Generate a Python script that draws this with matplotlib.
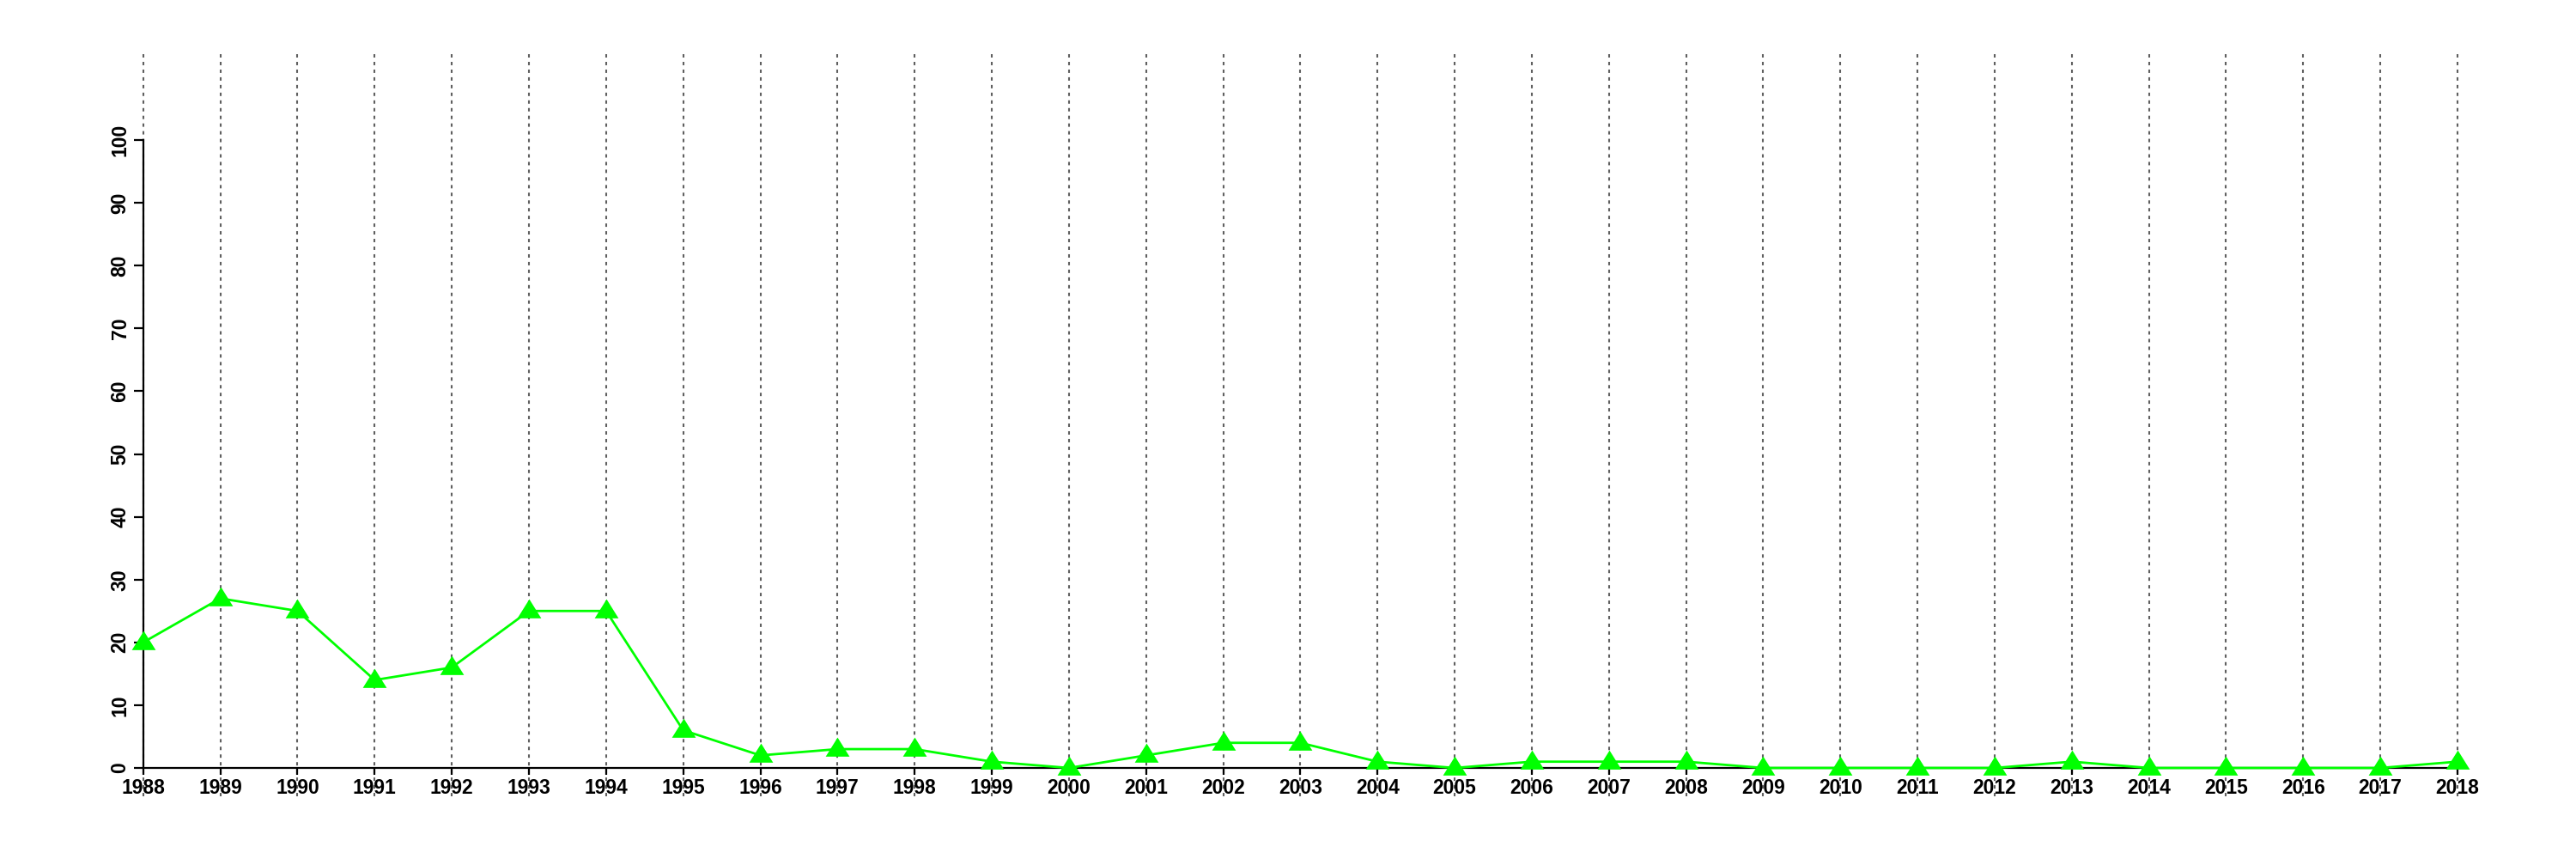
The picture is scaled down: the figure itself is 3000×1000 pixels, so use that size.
import matplotlib
matplotlib.use('Agg')
import matplotlib.pyplot as plt
from matplotlib.path import Path
import numpy as np

years = list(range(1988, 2019))
values = [20, 27, 25, 14, 16, 25, 25, 6, 2, 3, 3, 1, 0, 2, 4, 4, 1, 0,
          1, 1, 1, 0, 0, 0, 0, 1, 0, 0, 0, 0, 1]
y_ticks = list(range(0, 101, 10))

plt.rcParams['font.family'] = ['Liberation Sans', 'DejaVu Sans']
plt.rcParams['font.weight'] = 'bold'

# flatter triangle, a bit above the point (like R's pch 17)
tri = Path([(-1, -0.6), (1, -0.6), (0, 1.0), (-1, -0.6)],
           [Path.MOVETO, Path.LINETO, Path.LINETO, Path.CLOSEPOLY])

fig = plt.figure(figsize=(30, 10), dpi=100)
ax = fig.add_axes([0.0556, 0.106, 0.954 - 0.0556, 0.837 - 0.106])

ax.set_xlim(years[0], years[-1])
ax.set_ylim(0, 100)

# dotted vertical guides, running past the plot area like the original
ax.vlines(years, -4.5, 114.1, colors='#5f5f5f', linestyles=(0, (1.9, 2.4)),
          linewidth=1.5, clip_on=False, zorder=1)

ax.plot(years, values, color='#00ff00', linewidth=2, marker=tri,
        markersize=20, markeredgewidth=0, clip_on=False, zorder=3)

for side in ['top', 'right']:
    ax.spines[side].set_visible(False)
for side in ['left', 'bottom']:
    ax.spines[side].set_linewidth(1.6)
    ax.spines[side].set_zorder(2)

ax.set_xticks(years)
ax.set_xticklabels([str(y) for y in years])
ax.set_yticks(y_ticks)
ax.set_yticklabels([str(v) for v in y_ticks], rotation=90, va='center')

ax.tick_params(axis='x', length=6, width=1.6, pad=3, labelsize=16.5)
ax.tick_params(axis='y', length=8, width=1.6, pad=3, labelsize=16.5)

fig.savefig('out.png', dpi=100)
